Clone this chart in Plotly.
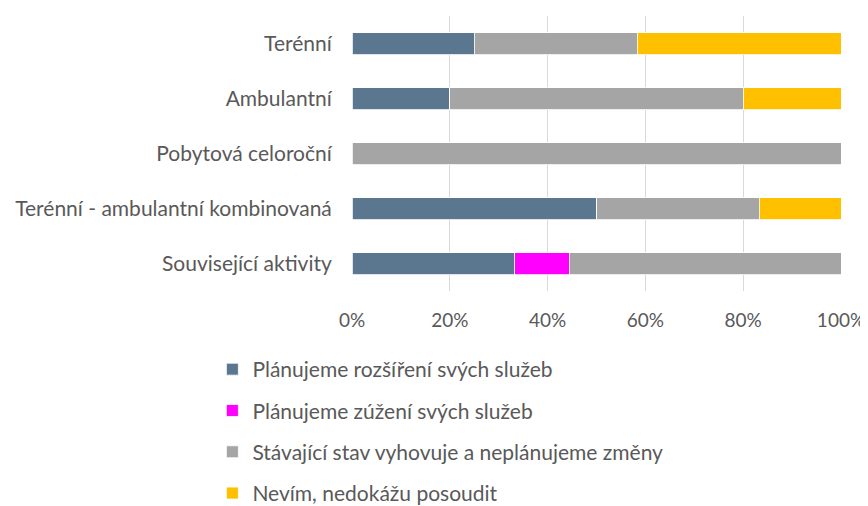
import plotly.graph_objects as go

categories = ["Terénní", "Ambulantní", "Pobytová celoroční",
              "Terénní - ambulantní kombinovaná", "Související aktivity"]
series_names = ["Plánujeme rozšíření svých služeb",
                "Plánujeme zúžení svých služeb",
                "Stávající stav vyhovuje a neplánujeme změny",
                "Nevím, nedokážu posoudit"]
rozsireni = [0.25, 0.20, 0.0, 0.50, 0.3333]
zuzeni = [0.0, 0.0, 0.0, 0.0, 0.1111]
stavajici = [0.3333, 0.60, 1.0, 0.3333, 0.5556]
nevim = [0.4167, 0.20, 0.0, 0.1667, 0.0]
colors = ["#5B7790", "#FF00FF", "#A5A5A5", "#FFC000"]
tick_vals = [0, 0.2, 0.4, 0.6, 0.8, 1.0]
tick_text = ["0%", "20%", "40%", "60%", "80%", "100%"]

fig = go.Figure()
for i, (name, vals) in enumerate(zip(series_names, [rozsireni, zuzeni, stavajici, nevim])):
    fig.add_trace(go.Bar(
        y=categories, x=vals, name=name, orientation="h",
        marker=dict(color=colors[i], line=dict(color="white", width=0.8)),
        legendgroup=f"g{i}",
    ))

font = "Lato, Carlito, Calibri, sans-serif"
fs = 21
fig.update_layout(
    barmode="stack",
    bargap=0.6,
    width=860, height=498,
    margin=dict(l=344, r=27, t=8, b=215, autoexpand=False),
    paper_bgcolor="white", plot_bgcolor="white",
    font=dict(family=font, size=fs, color="#595959"),
    xaxis=dict(range=[0, 1], tickvals=tick_vals, ticktext=tick_text,
               showgrid=True, gridcolor="#D9D9D9", gridwidth=1.3,
               zeroline=False, showline=False, automargin=False,
               ticks="outside", ticklen=12, tickcolor="rgba(0,0,0,0)",
               tickfont=dict(size=19, color="#595959")),
    yaxis=dict(autorange="reversed", showgrid=False, showline=False,
               automargin=False,
               ticks="outside", ticklen=15, tickcolor="rgba(0,0,0,0)",
               tickfont=dict(size=fs, color="#595959")),
    legend=dict(x=-0.2855, xanchor="left", y=-0.211, yanchor="top",
                orientation="v", traceorder="grouped", tracegroupgap=11,
                font=dict(size=fs, color="#595959"), itemwidth=30),
    showlegend=True,
)
fig.write_html("out.html")
